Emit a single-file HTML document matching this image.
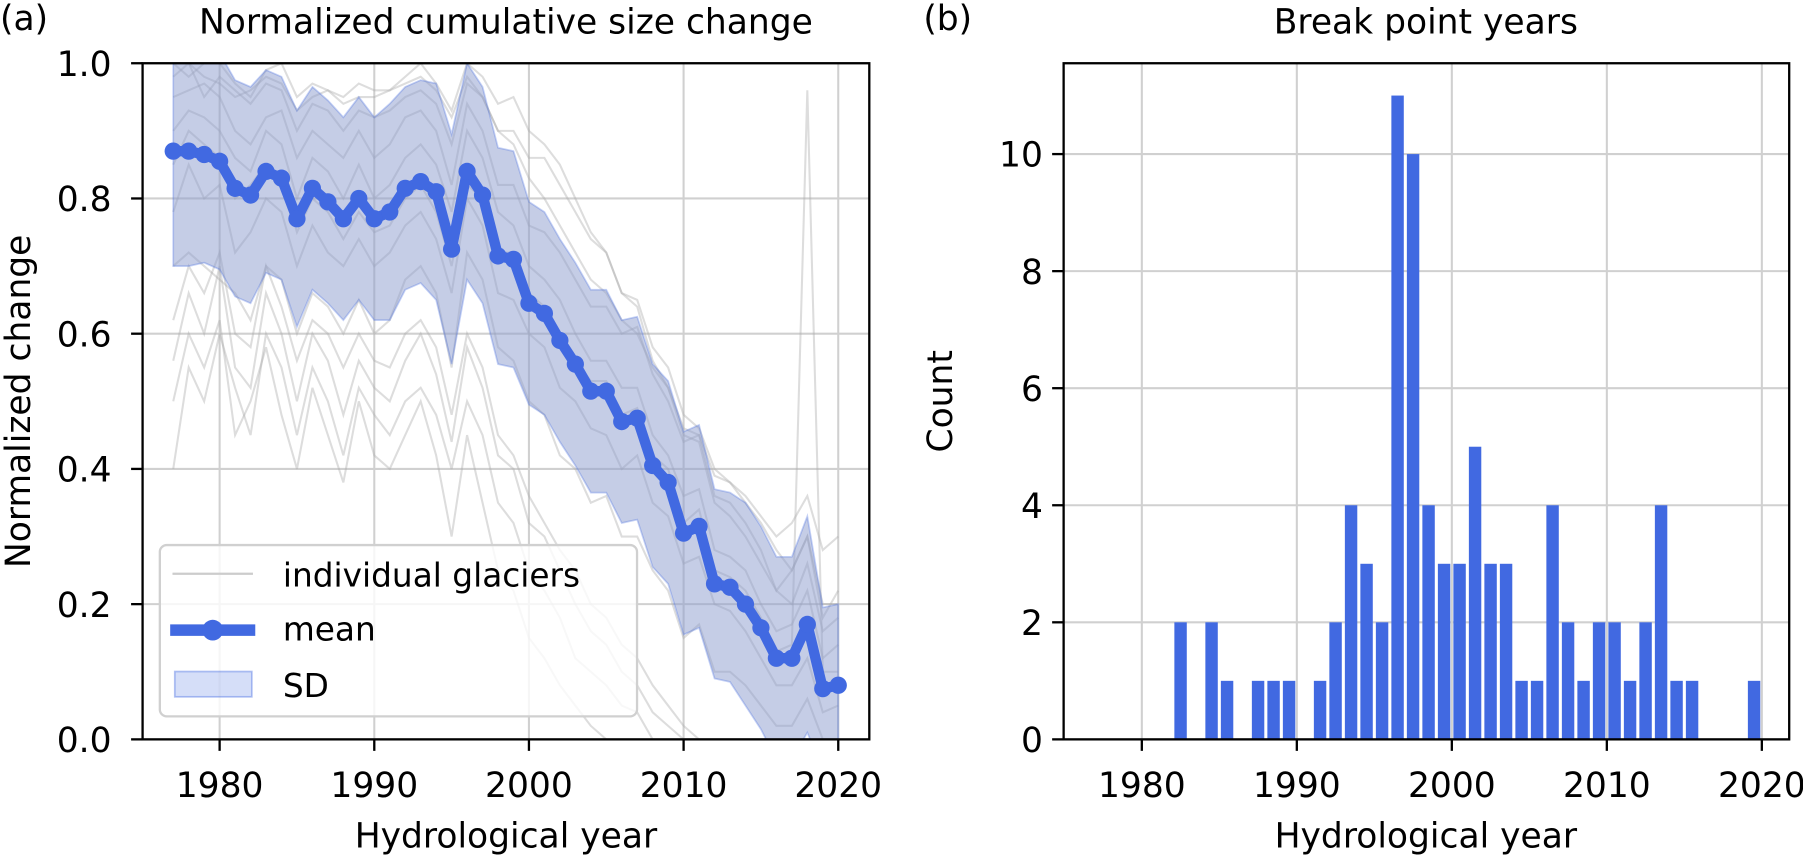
<!DOCTYPE html>
<html><head><meta charset="utf-8"><style>
html,body{margin:0;padding:0;background:#fff;width:1803px;height:857px;overflow:hidden}
svg{display:block}
svg text{font-family:"DejaVu Sans","Liberation Sans",sans-serif;fill:#000}
</style></head><body>
<svg id="fig" width="1803" height="857" viewBox="0 0 1568 745.3" xmlns="http://www.w3.org/2000/svg"></svg>
<script>
const meanYears=[1977,1978,1979,1980,1981,1982,1983,1984,1985,1986,1987,1988,1989,1990,1991,1992,1993,1994,1995,1996,1997,1998,1999,2000,2001,2002,2003,2004,2005,2006,2007,2008,2009,2010,2011,2012,2013,2014,2015,2016,2017,2018,2019,2020];
const meanValues=[0.87,0.87,0.865,0.855,0.815,0.805,0.84,0.83,0.77,0.815,0.795,0.77,0.8,0.77,0.78,0.815,0.825,0.81,0.725,0.84,0.805,0.715,0.71,0.645,0.63,0.59,0.555,0.515,0.515,0.47,0.475,0.405,0.38,0.305,0.315,0.23,0.225,0.2,0.165,0.12,0.12,0.17,0.075,0.08];
const sdValues=[0.17,0.17,0.16,0.16,0.16,0.16,0.15,0.15,0.16,0.15,0.15,0.15,0.15,0.15,0.16,0.15,0.15,0.16,0.17,0.16,0.16,0.16,0.16,0.15,0.15,0.15,0.15,0.15,0.15,0.15,0.15,0.15,0.15,0.15,0.15,0.14,0.14,0.15,0.15,0.15,0.15,0.16,0.12,0.12];
const glacier1=[1,1,0.98,0.97,0.95,0.96,0.98,0.97,0.93,0.95,0.96,0.94,0.95,0.95,0.96,0.97,0.98,0.96,0.92,0.98,0.95,0.9,0.88,0.83,0.8,0.76,0.72,0.68,0.66,0.62,0.6,0.55,0.52,0.46,0.45,0.39,0.38,0.36,0.33,0.3,0.32,0.36,0.28,0.3];
const glacier2=[0.5,0.6,0.55,0.62,0.45,0.5,0.58,0.48,0.4,0.52,0.45,0.38,0.5,0.42,0.4,0.45,0.5,0.42,0.3,0.45,0.35,0.25,0.22,0.15,0.12,0.08,0.05,0.02,0,0,0,0,0,0,0,0,0,0,0,0,0,0,0,0];
const glacier3=[0.7,0.72,0.7,0.68,0.66,0.62,0.7,0.68,0.6,0.66,0.64,0.6,0.65,0.6,0.62,0.68,0.7,0.66,0.55,0.72,0.68,0.58,0.56,0.5,0.48,0.42,0.4,0.35,0.36,0.3,0.3,0.25,0.22,0.15,0.17,0.1,0.1,0.08,0.05,0.02,0.02,0.06,0,0];
const glacier4=[0.95,0.96,0.97,0.95,0.9,0.88,0.92,0.93,0.86,0.9,0.88,0.86,0.9,0.86,0.88,0.92,0.93,0.9,0.82,0.94,0.9,0.82,0.82,0.76,0.75,0.72,0.68,0.64,0.64,0.6,0.61,0.54,0.5,0.44,0.45,0.36,0.35,0.32,0.28,0.22,0.25,0.3,0.18,0.22];
const glacier5=[0.4,0.55,0.5,0.6,0.52,0.45,0.6,0.55,0.45,0.55,0.5,0.42,0.52,0.48,0.45,0.5,0.52,0.48,0.4,0.5,0.45,0.35,0.32,0.25,0.22,0.18,0.12,0.1,0.08,0.05,0.04,0,0,0,0,0,0,0,0,0,0,0,0,0];
const glacier6=[0.85,0.9,0.88,0.86,0.8,0.82,0.85,0.83,0.75,0.8,0.78,0.74,0.78,0.75,0.76,0.8,0.82,0.78,0.7,0.82,0.8,0.72,0.72,0.66,0.64,0.6,0.56,0.53,0.53,0.48,0.49,0.42,0.4,0.32,0.34,0.25,0.24,0.22,0.18,0.13,0.14,0.96,0.1,0.1];
const glacier7=[0.62,0.7,0.66,0.72,0.6,0.58,0.7,0.64,0.56,0.62,0.6,0.55,0.6,0.56,0.55,0.6,0.62,0.58,0.48,0.6,0.55,0.45,0.42,0.36,0.32,0.28,0.25,0.2,0.18,0.14,0.12,0.08,0.05,0.02,0,0,0,0,0,0,0,0,0,0];
const glacier8=[1,0.98,1,1,0.97,0.95,0.99,1,0.95,0.97,0.96,0.95,0.97,0.96,0.96,0.98,1,0.97,0.93,1,0.98,0.94,0.95,0.9,0.88,0.85,0.8,0.75,0.72,0.66,0.65,0.58,0.55,0.48,0.46,0.4,0.38,0.35,0.32,0.28,0.25,0.3,0.2,0.2];
const glacier9=[0.78,0.85,0.8,0.82,0.72,0.75,0.8,0.78,0.7,0.76,0.72,0.7,0.74,0.7,0.72,0.76,0.78,0.74,0.66,0.8,0.76,0.66,0.65,0.6,0.58,0.52,0.5,0.46,0.45,0.4,0.42,0.35,0.33,0.26,0.27,0.2,0.19,0.16,0.12,0.08,0.08,0.12,0.04,0.05];
const glacier10=[0.9,0.93,0.92,0.9,0.86,0.84,0.9,0.88,0.8,0.86,0.84,0.8,0.85,0.8,0.82,0.86,0.88,0.85,0.78,0.9,0.86,0.78,0.76,0.7,0.68,0.65,0.6,0.56,0.56,0.52,0.52,0.45,0.42,0.36,0.37,0.28,0.27,0.25,0.2,0.16,0.17,0.22,0.12,0.14];
const glacier11=[0.56,0.66,0.6,0.7,0.55,0.52,0.66,0.6,0.5,0.6,0.56,0.48,0.56,0.52,0.5,0.56,0.6,0.54,0.44,0.58,0.52,0.42,0.4,0.32,0.3,0.25,0.2,0.16,0.14,0.1,0.08,0.04,0.02,0,0,0,0,0,0,0,0,0,0,0];
const glacier12=[0.98,1,0.95,0.98,0.96,0.94,0.97,0.96,0.9,0.94,0.93,0.9,0.93,0.92,0.93,0.95,0.96,0.94,0.88,0.97,0.95,0.9,0.9,0.86,0.86,0.82,0.78,0.74,0.72,0.66,0.64,0.56,0.52,0.45,0.44,0.35,0.33,0.3,0.26,0.22,0.2,0.26,0.16,0.18];
const glaciers=[glacier1,glacier2,glacier3,glacier4,glacier5,glacier6,glacier7,glacier8,glacier9,glacier10,glacier11,glacier12];
const barYears=[1982,1984,1985,1987,1988,1989,1991,1992,1993,1994,1995,1996,1997,1998,1999,2000,2001,2002,2003,2004,2005,2006,2007,2008,2009,2010,2011,2012,2013,2014,2015,2019];
const barCounts=[2,2,1,1,1,1,1,2,4,3,2,11,10,4,3,3,5,3,3,1,1,4,2,1,2,2,1,2,4,1,1,1];
const xTicks=[1980,1990,2000,2010,2020];
const yTicksA=[0,0.2,0.4,0.6,0.8,1.0];
const yTicksB=[0,2,4,6,8,10];

const NS="http://www.w3.org/2000/svg";
const svg=document.getElementById('fig');
function el(tag,attrs,parent,text){const e=document.createElementNS(NS,tag);for(const k in attrs)e.setAttribute(k,attrs[k]);if(text!==undefined)e.textContent=text;(parent||svg).appendChild(e);return e;}
const TF=30;

// Panel A
const A={l:124,r:756,t:55,b:643};
const xa=y=>191+(y-1980)*13.45;
const ya=v=>643-v*588;
const ga=el('g',{});


el('defs',{},ga).innerHTML='<clipPath id="ca"><rect x="124" y="55" width="632" height="588"/></clipPath>';
xTicks.forEach(t=>{const l=el('line',{x1:xa(t),x2:xa(t),y1:A.t,y2:A.b,stroke:'#d0d0d0','stroke-width':1.8},ga);});
yTicksA.forEach(t=>{const l=el('line',{x1:A.l,x2:A.r,y1:ya(t),y2:ya(t),stroke:'#d0d0d0','stroke-width':1.8},ga);});
const clipG=el('g',{'clip-path':'url(#ca)'},ga);
glaciers.forEach(g=>{const p=el('polyline',{points:g.map((v,i)=>xa(meanYears[i])+','+ya(v)).join(' '),fill:'none',stroke:'#aaa','stroke-opacity':0.4,'stroke-width':1.8},clipG);});
const up=meanValues.map((v,i)=>xa(meanYears[i])+','+ya(v+sdValues[i]));
const lo=meanValues.map((v,i)=>xa(meanYears[i])+','+ya(v-sdValues[i])).reverse();
const band=el('polygon',{points:up.concat(lo).join(' '),fill:'rgb(140,155,205)','fill-opacity':0.5,stroke:'rgb(65,105,225)','stroke-opacity':0.3,'stroke-width':1.5},clipG);

const ml=el('polyline',{points:meanValues.map((v,i)=>xa(meanYears[i])+','+ya(v)).join(' '),fill:'none',stroke:'#4169e1','stroke-width':9,'stroke-linejoin':'round'},clipG);

meanValues.forEach((v,i)=>{const c=el('circle',{cx:xa(meanYears[i]),cy:ya(v),r:7.5,fill:'#4169e1'},clipG);});
el('rect',{x:A.l,y:A.t,width:A.r-A.l,height:A.b-A.t,fill:'none',stroke:'#000','stroke-width':2},ga);
xTicks.forEach(t=>{el('line',{x1:xa(t),x2:xa(t),y1:A.b,y2:A.b+10,stroke:'#000','stroke-width':2},ga);const tx=el('text',{x:xa(t),y:693,'text-anchor':'middle','font-size':TF},ga,String(t));});
yTicksA.forEach(t=>{el('line',{x1:A.l-10,x2:A.l,y1:ya(t),y2:ya(t),stroke:'#000','stroke-width':2},ga);const tx=el('text',{x:97,y:ya(t)+11,'text-anchor':'end','font-size':TF},ga,t.toFixed(1));});
// legend
const lg=el('g',{},ga);
el('rect',{x:139,y:474,width:415,height:149,rx:6,fill:'#fff','fill-opacity':0.8,stroke:'#d0d0d0','stroke-width':2},lg);
el('line',{x1:150,x2:220,y1:499,y2:499,stroke:'#ccc','stroke-width':2},lg);
el('text',{x:246,y:510,'font-size':28.5},lg,'individual glaciers');
el('line',{x1:148,x2:222,y1:548,y2:548,stroke:'#4169e1','stroke-width':10},lg);
el('circle',{cx:185,cy:548,r:9,fill:'#4169e1'},lg);
el('text',{x:246,y:557,'font-size':28.5},lg,'mean');
el('rect',{x:152,y:584,width:67,height:22,fill:'rgb(65,105,225)','fill-opacity':0.22,stroke:'rgb(65,105,225)','stroke-opacity':0.4,'stroke-width':1.5},lg);
el('text',{x:246,y:606,'font-size':28.5},lg,'SD');
let t=el('text',{x:440,y:737,'text-anchor':'middle','font-size':TF},ga,'Hydrological year');
t=el('text',{x:0,y:0,'text-anchor':'middle','font-size':TF,transform:'translate(26,349) rotate(-90)'},ga,'Normalized change');
t=el('text',{x:440,y:29,'text-anchor':'middle','font-size':TF},ga,'Normalized cumulative size change');
t=el('text',{x:0,y:26,'font-size':TF},ga,'(a)');

// Panel B
const B={l:925,r:1556,t:55,b:643};
const xb=y=>993+(y-1980)*13.48;
const yb=v=>643-v*50.9;
const gb=el('g',{});


xTicks.forEach(t=>el('line',{x1:xb(t),x2:xb(t),y1:B.t,y2:B.b,stroke:'#d0d0d0','stroke-width':1.8},gb));
yTicksB.forEach(t=>el('line',{x1:B.l,x2:B.r,y1:yb(t),y2:yb(t),stroke:'#d0d0d0','stroke-width':1.8},gb));
barYears.forEach((y,i)=>{const r=el('rect',{x:xb(y+0.5)-5.4,y:yb(barCounts[i]),width:10.8,height:yb(0)-yb(barCounts[i]),fill:'#4169e1'},gb);});
el('rect',{x:B.l,y:B.t,width:B.r-B.l,height:B.b-B.t,fill:'none',stroke:'#000','stroke-width':2},gb);
xTicks.forEach(t=>{el('line',{x1:xb(t),x2:xb(t),y1:B.b,y2:B.b+10,stroke:'#000','stroke-width':2},gb);const tx=el('text',{x:xb(t),y:693,'text-anchor':'middle','font-size':TF},gb,String(t));});
yTicksB.forEach(t=>{el('line',{x1:B.l-10,x2:B.l,y1:yb(t),y2:yb(t),stroke:'#000','stroke-width':2},gb);const tx=el('text',{x:B.l-18,y:yb(t)+11,'text-anchor':'end','font-size':TF},gb,String(t));});
t=el('text',{x:1240,y:737,'text-anchor':'middle','font-size':TF},gb,'Hydrological year');
t=el('text',{x:0,y:0,'text-anchor':'middle','font-size':TF,transform:'translate(828,349) rotate(-90)'},gb,'Count');
t=el('text',{x:1240,y:29,'text-anchor':'middle','font-size':TF},gb,'Break point years');
t=el('text',{x:803,y:26,'font-size':TF},gb,'(b)');
</script>
</body></html>
